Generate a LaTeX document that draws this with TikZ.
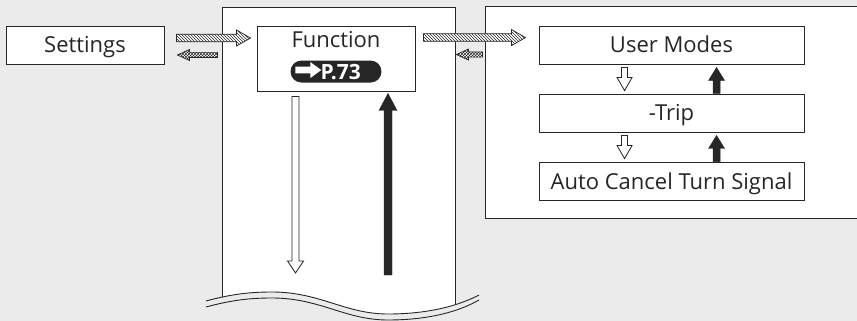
\documentclass[tikz,border=0pt]{standalone}
\usepackage{fontspec}
\setmainfont{Open Sans}
\usetikzlibrary{calc,patterns}
\definecolor{bg}{HTML}{EBEBEB}
\definecolor{ln}{HTML}{262626}
\newcommand\harrow[6]{%
  \path[#1] let \p1=(#2), \p2=(#3), \n1={sign(\x2-\x1)} in
    ({\x1},{\y1+#4}) -- ({\x2-(\n1)*#6},{\y1+#4}) -- ({\x2-(\n1)*#6},{\y1+#5}) -- ({\x2},{\y1})
    -- ({\x2-(\n1)*#6},{\y1-#5}) -- ({\x2-(\n1)*#6},{\y1-#4}) -- ({\x1},{\y1-#4}) -- cycle;}
\newcommand\varrow[6]{%
  \path[#1] let \p1=(#2), \p2=(#3), \n1={sign(\y2-\y1)} in
    ({\x1-#4},{\y1}) -- ({\x1-#4},{\y2-(\n1)*#6}) -- ({\x1-#5},{\y2-(\n1)*#6}) -- ({\x1},{\y2})
    -- ({\x1+#5},{\y2-(\n1)*#6}) -- ({\x1+#4},{\y2-(\n1)*#6}) -- ({\x1+#4},{\y1}) -- cycle;}
\tikzset{
  box/.style={draw=ln, line width=0.9pt, fill=white, inner sep=0pt, minimum height=38pt},
  txt/.style={inner sep=0pt, anchor=base, text=ln, font=\fontsize{22}{25}\selectfont},
  hatch/.style={draw=ln, line width=0.7pt, preaction={fill=white}, pattern=north west lines, pattern color=ln},
  xhatch/.style={draw=ln, line width=0.7pt, preaction={fill=white}, pattern=crosshatch, pattern color=ln},
  hollow/.style={draw=ln, line width=0.8pt, fill=white, line join=miter},
  blackarr/.style={draw=ln, line width=0.4pt, fill=ln},
  panelline/.style={draw=ln, line width=0.9pt},
}
\begin{document}
\begin{tikzpicture}[x=1pt, y=-1pt]
\useasboundingbox (0,0) rectangle (857,321);
\fill[bg] (0,0) rectangle (857,321);
% left panel, clipped by the wave
\begin{scope}
  \clip (206,301) .. controls (232,294) and (250,292) .. (272,292)
        .. controls (320,292) and (345,314) .. (388,314)
        .. controls (430,314) and (460,305) .. (480,294) -- (480,0) -- (206,0) -- cycle;
  \fill[white] (222,7) rectangle (455,330);
  \draw[panelline] (222,330) -- (222,7) -- (455,7) -- (455,330);
\end{scope}
% wave lines
\draw[ln, line width=0.9pt] (206,301) .. controls (232,294) and (250,292) .. (272,292)
        .. controls (320,292) and (345,314) .. (388,314)
        .. controls (430,314) and (460,305) .. (479,295);
\draw[ln, line width=0.9pt] (206,307) .. controls (232,300) and (250,298) .. (272,298)
        .. controls (320,298) and (345,320) .. (388,320)
        .. controls (430,320) and (460,311) .. (479,300);
% right panel
\fill[white] (485,6) rectangle (857,218);
\draw[panelline] (858,6) -- (485,6) -- (485,218) -- (858,218);

% boxes
\node[box, minimum width=158pt] (settings) at (85,45) {};
\node[txt] (settingsT) at ($(settings.center)+(0,8)$) {Settings};
\node[box, minimum width=158pt, minimum height=65pt] (func) at (336,58.5) {};
\node[txt] (functxt) at ($(func.north)+(0,22)$) {Function};
\node[fill=ln, rounded corners=11pt, minimum width=91pt, minimum height=22pt, inner sep=0pt] (pill) at ($(func.north)+(0,46)$) {};
\harrow{fill=white}{$(pill.west)+(5,-1.5)$}{$(pill.west)+(31,0)$}{3.4pt}{8pt}{11pt}
\node[anchor=base west, inner sep=0pt, text=white, font=\fontsize{21}{24}\selectfont\bfseries] (pref) at ($(pill.west)+(30,8)$) {P.73};

\node[box, minimum width=265pt] (um) at (671.5,45) {};
\node[txt] (umT) at ($(um.center)+(0,7.5)$) {User Modes};
\node[box, minimum width=265pt] (trip) at (671.5,113) {};
\node[txt] (tripT) at ($(trip.center)+(0,8)$) {-Trip};
\node[box, minimum width=265pt] (acts) at (671.5,181) {};
\node[txt] (actsT) at ($(acts.center)+(0,8)$) {Auto Cancel Turn Signal};

% horizontal hatched arrows
\harrow{hatch}{$(settings.east)+(12,-7)$}{$(func.west)+(-6,0)$}{3.8pt}{8pt}{14pt}
\harrow{xhatch}{$(settings.east)+(53,10)$}{$(settings.east)+(13,0)$}{2.6pt}{5.5pt}{12pt}
\harrow{hatch}{$(func.north east)+(8,12)$}{$(um.west)+(-13,0)$}{3.8pt}{8pt}{14pt}
\harrow{xhatch}{$(func.north east)+(67,29)$}{$(func.east)+(41,0)$}{2.6pt}{5.5pt}{12pt}

% left panel vertical arrows
\coordinate (downend) at (296,273);
\coordinate (upstart) at (388,275);
\varrow{hollow}{$(func.south west)+(39,5)$}{downend}{3.5pt}{8pt}{12pt}
\varrow{blackarr}{upstart}{$(func.south west)+(131,2)$}{4pt}{9pt}{17pt}

% right panel vertical arrows
\varrow{hollow}{$(um.south west)+(86,3)$}{$(trip.north west)+(86,-3)$}{3pt}{7.5pt}{13pt}
\varrow{blackarr}{$(trip.north west)+(178,0)$}{$(um.south west)+(178,3)$}{3.5pt}{8pt}{13pt}
\varrow{hollow}{$(trip.south west)+(86,3)$}{$(acts.north west)+(86,-3)$}{3pt}{7.5pt}{13pt}
\varrow{blackarr}{$(acts.north west)+(178,0)$}{$(trip.south west)+(178,3)$}{3.5pt}{8pt}{13pt}
\end{tikzpicture}
\end{document}
